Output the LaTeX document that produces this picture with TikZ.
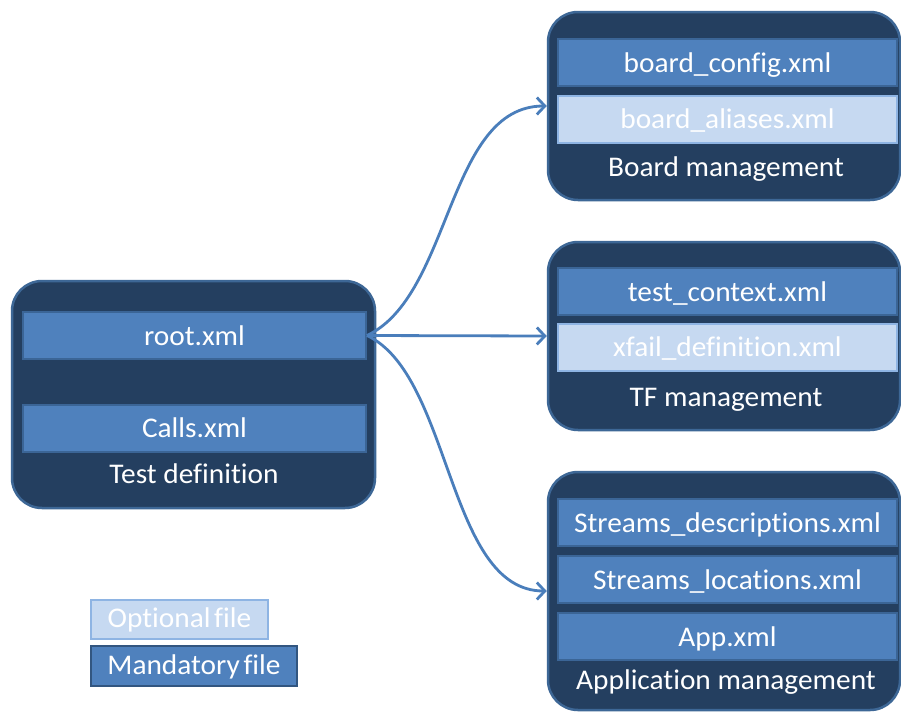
\documentclass[tikz,border=0pt]{standalone}
\usepackage{fontspec}
\setmainfont{Carlito}[Ligatures=NoCommon, FakeStretch=1.03]
\usetikzlibrary{arrows.meta}

\definecolor{navy}{HTML}{243F60}
\definecolor{navyedge}{HTML}{3D6796}
\definecolor{mandfill}{HTML}{4F81BD}
\definecolor{mandedge}{HTML}{3B6596}
\definecolor{optfill}{HTML}{C6D9F1}
\definecolor{optedge}{HTML}{8EB4E3}
\definecolor{link}{HTML}{4A7EBB}

\begin{document}
\begin{tikzpicture}[x=1pt,y=-1pt,
  group/.style={draw=navyedge, line width=2.5pt, fill=navy,
    rounded corners=30pt, inner sep=0pt, rectangle},
  file/.style={rectangle, line width=2pt, text=white,
    font=\fontsize{28.5}{30}\selectfont, text height=19pt, text depth=0pt,
    inner sep=0pt, minimum width=339pt, minimum height=47pt},
  mand/.style={file, draw=mandedge, fill=mandfill},
  opt/.style={file, draw=optedge, fill=optfill},
  caption/.style={text=white, font=\fontsize{28.5}{30}\selectfont,
    anchor=base, inner sep=0pt},
  conn/.style={draw=link, line width=2.8pt,
    -{Straight Barb[length=8pt,width=17pt,line width=2.8pt]}}]

\useasboundingbox (0,0) rectangle (901,712);
\fill[white] (0,0) rectangle (901,712);

% Test definition group
\node[group, minimum width=363pt, minimum height=227pt] (testdef) at (193.5,394.5) {};
\node[mand, minimum width=343pt] (root) at (194.5,335.5) {root.xml};
\node[mand, minimum width=343pt, minimum height=47pt] (calls) at (194.5,428) {Calls.xml};
\node[caption] (testdeflabel) at (194,483) {Test definition};

% Board management group
\node[group, minimum width=352pt, minimum height=188pt] (board) at (724,106) {};
\node[mand] (boardconfig) at (727.5,62.5) {board\_config.xml};
\node[opt] (boardaliases) at (727.5,119) {board\_aliases.xml};
\node[caption] (boardlabel) at (726,176) {Board management};

% TF management group
\node[group, minimum width=352pt, minimum height=188pt] (tf) at (724,336) {};
\node[mand] (testcontext) at (727.5,291.5) {test\_context.xml};
\node[opt] (xfail) at (727.5,347) {xfail\_definition.xml};
\node[caption] (tflabel) at (726,406) {TF management};

% Application management group
\node[group, minimum width=352pt, minimum height=238pt] (app) at (724,591) {};
\node[mand] (streamsdesc) at (727.5,522.5) {Streams\_descriptions.xml};
\node[mand] (streamsloc) at (727.5,579.5) {Streams\_locations.xml};
\node[mand] (appxml) at (727.5,636.5) {App.xml};
\node[caption] (applabel) at (726,689) {Application management};

% Legend
\node[opt, minimum width=177pt, minimum height=39pt, text height=15pt] (legopt) at (179.5,619.5) {Optional\hspace{-3pt} file};
\node[mand, minimum width=206pt, minimum height=40pt, text height=16pt, draw=mandedge!85!black] (legmand) at (194,666) {Mandatory\hspace{-3pt} file};

% Connectors from root.xml
\draw[conn] (root.east) .. controls +(85,-40) and +(-100,0) .. (board.west);
\draw[conn] (root.east) -- (tf.west);
\draw[conn] (root.east) .. controls +(85,40) and +(-100,0) .. (app.west);
\end{tikzpicture}
\end{document}
